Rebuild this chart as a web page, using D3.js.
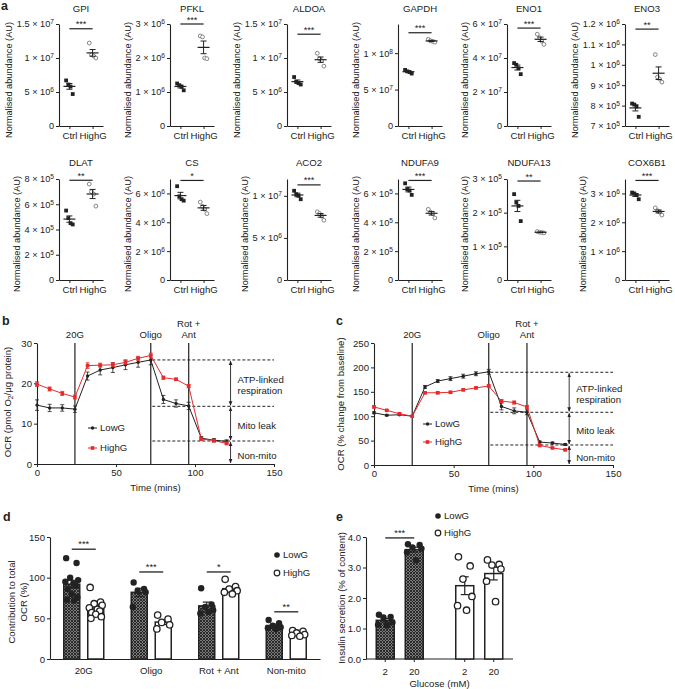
<!DOCTYPE html>
<html><head><meta charset="utf-8">
<script src="https://cdn.jsdelivr.net/npm/d3@7"></script>
<style>
body{margin:0;background:#fff}
svg text{font-family:"Liberation Sans",Arial,Helvetica,sans-serif;fill:#222}
</style>
</head><body>
<svg id="fig" width="675" height="689"></svg>
<script>
// ---------------- DATA ----------------
// Panel a
const genes = ["GPI","PFKL","ALDOA","GAPDH","ENO1","ENO3","DLAT","CS","ACO2","NDUFA9","NDUFA13","COX6B1"];
const groupsA = ["Ctrl","HighG"];
const ctrlA = [
  [6.7e6, 6.1e6, 5.8e6, 4.7e6],
  [1.25e6, 1.2e6, 1.15e6, 1.05e6],
  [7.2e6, 6.5e6, 6.3e6, 6.1e6],
  [7.7e7, 7.5e7, 7.4e7, 7.2e7],
  [3.7e7, 3.6e7, 3.4e7, 3.05e7],
  [8.1e5, 8.05e5, 7.95e5, 7.45e5],
  [5.5e5, 4.9e5, 4.5e5, 4.4e5],
  [6.5e6, 5.8e6, 5.6e6, 5.5e6],
  [1.06e7, 1.02e7, 1.0e7, 9.6e6],
  [6.7e5, 6.3e5, 6.2e5, 5.9e5],
  [2.55e5, 2.3e5, 2.2e5, 1.75e5],
  [3.03e6, 3.0e6, 2.95e6, 2.8e6]
];
const highA = [
  [1.22e7, 1.05e7, 1.03e7, 1.0e7],
  [2.65e6, 2.62e6, 2.0e6, 1.98e6],
  [1.07e7, 9.9e6, 9.6e6, 8.8e6],
  [1.19e8, 1.17e8, 1.16e8, 1.15e8],
  [5.4e7, 5.2e7, 5.0e7, 4.8e7],
  [1.05e6, 9.4e5, 9.3e5, 9.15e5],
  [7.6e5, 7.0e5, 6.8e5, 5.85e5],
  [5.4e6, 5.1e6, 4.9e6, 4.6e6],
  [8.1e6, 7.9e6, 7.6e6, 7.1e6],
  [4.9e5, 4.7e5, 4.6e5, 4.3e5],
  [1.44e5, 1.42e5, 1.41e5, 1.40e5],
  [2.5e6, 2.4e6, 2.35e6, 2.25e6]
];
const yMinA = [0,0,0,0,0,7e5, 0,0,0,0,0,0];
const yMaxA = [1.5e7,3e6,1.5e7,1.4e8,6e7,1.2e6, 8e5,7e6,1.2e7,7e5,3e5,3.5e6];
const ticksA = [
  [0,5e6,1e7,1.5e7],[0,1e6,2e6,3e6],[0,5e6,1e7,1.5e7],[0,5e7,1e8],[0,2e7,4e7,6e7],[7e5,8e5,9e5,1e6,1.1e6,1.2e6],
  [0,2e5,4e5,6e5,8e5],[0,2e6,4e6,6e6],[0,5e6,1e7],[0,2e5,4e5,6e5],[0,1e5,2e5,3e5],[0,1e6,2e6,3e6]
];
const starsA = ["***","***","***","***","***","**","**","*","***","***","**","***"];
const sigLevelA = [1.43e7,3.0e6,1.35e7,1.28e8,5.76e7,1.175e6, 7.9e5,6.9e6,1.13e7,6.9e5,2.94e5,3.45e6];

// Panels b, c
const times = [0,8,16,24,32,40,48,56,64,72,80,88,96,104,112,120];
const lowB = [14.6,13.9,13.9,13.6,21.8,23.3,23.9,24.6,25.2,25.8,16.0,15.0,14.4,6.4,5.9,5.6];
const lowBErr = [1.3,0.9,0.8,0.8,1.0,1.2,1.2,1.2,1.2,1.2,1.0,0.9,0.9,0.4,0.4,0.4];
const highB = [19.8,18.6,17.5,16.6,24.4,24.5,24.6,25.2,26.2,26.9,21.4,21.0,19.3,6.2,5.8,5.1];
const highBErr = [0.6,0.5,0.5,0.5,0.7,0.5,0.5,0.5,0.5,0.6,0.4,0.3,0.4,0.3,0.3,0.3];
const lowC = [107,102,103,100,160,172,177,182,187,191,120,111,108,47,45,42];
const lowCErr = [2,1.5,1.5,0,3,3,4,4,4,5,7,6,5,2,2,2];
const highC = [119,112,105,100,148,148,149,154,158,162,131,128,119,40,35,31];
const highCErr = [2,1.5,1.5,0,2,2,2,2,2,2,3,3,3,1.5,1.5,1.5];
const injections = [{t:24,label:["20G"]},{t:72,label:["Oligo"]},{t:96,label:["Rot +","Ant"]}];
const levelsB = [25.8,14.3,5.7];
const levelsC = [190,108,41];
const levelLabels = [["ATP-linked","respiration"],["Mito leak"],["Non-mito"]];
const ticksB = [0,10,20,30];
const ticksC = [0,50,100,150,200,250];
const ticksTime = [0,50,100,150];

// Panel d
const groupsD = ["20G","Oligo","Rot + Ant","Non-mito"];
const lowD = [
  [124,118,100,97,95,93,90,86,80,76,73,72],
  [94,86,84,82,64],
  [87,67,64,60,56,58],
  [48,44,41,39,38,37]
];
const highD = [
  [88,70,68,66,63,61,59,57,55,52,50],
  [54,49,45,42,37],
  [98,89,86,84,82,80],
  [35,34,32,30,29,28]
];
const starsD = ["***","***","*","**"];
const sigLevelD = [135,107,107,58];
const ticksD = [0,50,100,150];

// Panel e
const glucose = ["2","20"];
const lowE = [
  [1.45,1.38,1.36,1.2,1.12,1.1],
  [3.76,3.74,3.66,3.62,3.5,3.24]
];
const highE = [
  [3.35,3.05,2.62,2.05,1.75,1.6],
  [3.25,3.1,3.08,2.95,2.55,1.88]
];
const ticksE = [0,1,2,3,4];
const sigLevelE = 3.97;

// ---------------- DRAWING ----------------
const FONT = '"Liberation Sans", Arial, Helvetica, sans-serif';
const INK = "#222";
const RED = "#e8282b";
const FS = 9.6;
const svg = d3.select("#fig");
svg.append("rect").attr("width",675).attr("height",689).attr("fill","#fff");

function styleAxis(g, fs){
  g.attr("font-family",FONT).attr("font-size",fs);
  g.selectAll(".domain").attr("stroke",INK).attr("stroke-width",1.1);
  g.selectAll(".tick line").attr("stroke",INK).attr("stroke-width",1);
  g.selectAll(".tick text").attr("fill",INK);
}
function sci(sel){
  sel.each(function(v){
    const t = d3.select(this); t.text(null);
    if (v === 0){ t.text("0"); return; }
    const e = Math.floor(Math.log10(v) + 1e-9);
    const m = +(v/Math.pow(10,e)).toFixed(2);
    t.append("tspan").text(m + " \u00d7 10");
    t.append("tspan").attr("dy","-0.45em").attr("font-size","6.6px").text(e);
  });
}
function mean(a){ return d3.mean(a); }
function sem(a){ return d3.deviation(a)/Math.sqrt(a.length); }
function panelLabel(txt,x,y){
  svg.append("text").attr("x",x).attr("y",y).attr("font-size",12.5).attr("font-weight","bold").text(txt);
}

// ---- Panel a ----
panelLabel("a",1,10);
const aCols = [59,170,287,398,507,625];
const aRows = [{y0:126,y1:24,title:12,lab:80},{y0:280,y1:179,title:166,lab:234}];
genes.forEach((name,i)=>{
  const r = aRows[Math.floor(i/6)], ax = aCols[i%6];
  const y = d3.scaleLinear().domain([yMinA[i],yMaxA[i]]).range([r.y0,r.y1]);
  const x = d3.scalePoint().domain(groupsA).range([ax,ax+44]).padding(0.45);
  const g = svg.append("g");
  const ya = g.append("g").attr("transform",`translate(${ax},0)`)
    .call(d3.axisLeft(y).tickValues(ticksA[i]).tickSize(3).tickSizeOuter(0).tickPadding(2));
  styleAxis(ya,9.2);
  ya.selectAll(".tick text").call(sci);
  const xa = g.append("g").attr("transform",`translate(0,${r.y0})`)
    .call(d3.axisBottom(x).tickSize(3).tickSizeOuter(0).tickPadding(3));
  styleAxis(xa,FS);
  g.append("text").attr("x",ax+22).attr("y",r.title).attr("text-anchor","middle").attr("font-size",FS).text(name);
  const bb = ya.node().getBBox();
  g.append("text").attr("transform",`translate(${ax+bb.x-8},${r.lab}) rotate(-90)`)
    .attr("text-anchor","middle").attr("dy","0.35em").attr("font-size",9.2).text("Normalised abundance (AU)");
  const off = (j,n)=> (j-(n-1)/2)*2.2;
  ctrlA[i].forEach((v,j)=>{
    g.append("rect").attr("x",x("Ctrl")+off(j,4)-1.9).attr("y",y(v)-1.9).attr("width",3.8).attr("height",3.8).attr("fill",INK);
  });
  highA[i].forEach((v,j)=>{
    g.append("circle").attr("cx",x("HighG")+off(j,4)).attr("cy",y(v)).attr("r",1.9)
      .attr("fill","#fff").attr("stroke","#777").attr("stroke-width",0.9);
  });
  [[ctrlA[i],"Ctrl"],[highA[i],"HighG"]].forEach(([arr,k])=>{
    const m = mean(arr), s = sem(arr), cx = x(k);
    g.append("line").attr("x1",cx-6).attr("x2",cx+6).attr("y1",y(m)).attr("y2",y(m)).attr("stroke",INK).attr("stroke-width",1.2);
    g.append("line").attr("x1",cx).attr("x2",cx).attr("y1",y(m-s)).attr("y2",y(m+s)).attr("stroke",INK).attr("stroke-width",1);
    [m-s,m+s].forEach(v=>g.append("line").attr("x1",cx-3).attr("x2",cx+3).attr("y1",y(v)).attr("y2",y(v)).attr("stroke",INK).attr("stroke-width",1));
  });
  const sy = y(sigLevelA[i]);
  g.append("line").attr("x1",x("Ctrl")).attr("x2",x("HighG")).attr("y1",sy).attr("y2",sy).attr("stroke",INK).attr("stroke-width",1.2);
  g.append("text").attr("x",(x("Ctrl")+x("HighG"))/2).attr("y",sy-1.5).attr("text-anchor","middle").attr("font-size",9.2).text(starsA[i]);
});

// ---- Panels b & c ----
const defs = svg.append("defs");
defs.append("marker").attr("id","arr").attr("viewBox","0 0 6 6").attr("refX",5.5).attr("refY",3)
  .attr("markerWidth",5).attr("markerHeight",5).attr("orient","auto-start-reverse")
  .append("path").attr("d","M0,0.5 L6,3 L0,5.5 Z").attr("fill",INK);

function drawOCR(o){
  const x = d3.scaleLinear().domain([0,150]).range([o.x0,o.x1]);
  const y = d3.scaleLinear().domain([0,o.yMax]).range([o.y0,o.y1]);
  const g = svg.append("g");
  const ya = g.append("g").attr("transform",`translate(${o.x0},0)`)
    .call(d3.axisLeft(y).tickValues(o.ticks).tickSize(3).tickSizeOuter(0).tickPadding(2));
  styleAxis(ya,FS);
  const xa = g.append("g").attr("transform",`translate(0,${o.y0})`)
    .call(d3.axisBottom(x).tickValues(ticksTime).tickSize(3).tickSizeOuter(0).tickPadding(2));
  styleAxis(xa,FS);
  g.append("text").attr("x",x(75)).attr("y",o.y0+27).attr("text-anchor","middle").attr("font-size",FS).text("Time (mins)");
  injections.forEach(inj=>{
    g.append("line").attr("x1",x(inj.t)).attr("x2",x(inj.t)).attr("y1",y(0)).attr("y2",y(o.yMax))
      .attr("stroke","#333").attr("stroke-width",1.3);
    inj.label.forEach((l,k)=>{
      g.append("text").attr("x",x(inj.t)).attr("y",338-(inj.label.length-1-k)*11)
        .attr("text-anchor","middle").attr("font-size",FS).text(l);
    });
  });
  o.levels.forEach(v=>{
    g.append("line").attr("x1",x(73)).attr("x2",x(150)).attr("y1",y(v)).attr("y2",y(v))
      .attr("stroke",INK).attr("stroke-width",1).attr("stroke-dasharray","3,2");
  });
  const bounds = [o.levels[0],o.levels[1],o.levels[2],0];
  for (let k=0;k<3;k++){
    const ya1 = y(bounds[k]), ya2 = y(bounds[k+1]);
    g.append("line").attr("x1",x(122.5)).attr("x2",x(122.5)).attr("y1",ya1+1).attr("y2",ya2-1)
      .attr("stroke",INK).attr("stroke-width",0.9)
      .attr("marker-start","url(#arr)").attr("marker-end","url(#arr)");
    const lines = levelLabels[k], mid = (ya1+ya2)/2 + (k===2 ? 3 : 2);
    lines.forEach((l,j)=>{
      g.append("text").attr("x",x(122.5)+7).attr("y",mid + 3.3 + (j-(lines.length-1)/2)*11)
        .attr("font-size",FS).text(l);
    });
  }
  const series = [{v:o.low,e:o.lowErr,c:INK,sq:false},{v:o.high,e:o.highErr,c:RED,sq:true}];
  series.forEach(s=>{
    const line = d3.line().x((d,i)=>x(times[i])).y(d=>y(d));
    g.append("path").datum(s.v).attr("d",line).attr("fill","none").attr("stroke",s.c).attr("stroke-width",1);
    s.v.forEach((v,i)=>{
      const cx = x(times[i]);
      if (s.e[i]>0){
        g.append("line").attr("x1",cx).attr("x2",cx).attr("y1",y(v-s.e[i])).attr("y2",y(v+s.e[i])).attr("stroke",s.c).attr("stroke-width",0.8);
        [v-s.e[i],v+s.e[i]].forEach(w=>g.append("line").attr("x1",cx-2).attr("x2",cx+2).attr("y1",y(w)).attr("y2",y(w)).attr("stroke",s.c).attr("stroke-width",0.8));
      }
      if (s.sq) g.append("rect").attr("x",cx-1.8).attr("y",y(v)-1.8).attr("width",3.6).attr("height",3.6).attr("fill",s.c);
      else g.append("circle").attr("cx",cx).attr("cy",y(v)).attr("r",1.7).attr("fill",s.c);
    });
  });
  [["LowG",INK,false,o.legY[0]],["HighG",RED,true,o.legY[1]]].forEach(([lab,c,sq,ly])=>{
    g.append("line").attr("x1",o.legX).attr("x2",o.legX+9).attr("y1",ly).attr("y2",ly).attr("stroke",c).attr("stroke-width",1);
    if (sq) g.append("rect").attr("x",o.legX+4.5-1.8).attr("y",ly-1.8).attr("width",3.6).attr("height",3.6).attr("fill",c);
    else g.append("circle").attr("cx",o.legX+4.5).attr("cy",ly).attr("r",1.7).attr("fill",c);
    g.append("text").attr("x",o.legX+12).attr("y",ly+3.3).attr("font-size",FS).text(lab);
  });
  return g;
}
panelLabel("b",2,325);
drawOCR({x0:37,x1:274,y0:464,y1:343,yMax:30,ticks:ticksB,low:lowB,lowErr:lowBErr,high:highB,highErr:highBErr,levels:levelsB,legX:88,legY:[428,448]});
const tb = svg.append("text").attr("transform","translate(8,402) rotate(-90)").attr("text-anchor","middle").attr("dy","0.35em").attr("font-size",FS);
tb.append("tspan").text("OCR (pmol O");
tb.append("tspan").attr("font-size","6.6px").attr("dy","2").text("2");
tb.append("tspan").attr("dy","-2").text("/\u03bcg protein)");
panelLabel("c",336,325);
drawOCR({x0:374,x1:613,y0:465,y1:343,yMax:250,ticks:ticksC,low:lowC,lowErr:lowCErr,high:highC,highErr:highCErr,levels:levelsC,legX:423,legY:[424,442]});
svg.append("text").attr("transform","translate(341,404) rotate(-90)").attr("text-anchor","middle").attr("dy","0.35em").attr("font-size",FS).text("OCR (% change from baseline)");

// ---- Patterns ----
const pat = defs.append("pattern").attr("id","hatch").attr("patternUnits","userSpaceOnUse").attr("width",3).attr("height",3);
pat.append("rect").attr("width",3).attr("height",3).attr("fill","#7a7a7a");
pat.append("path").attr("d","M0,0 L3,3 M3,0 L0,3").attr("stroke","#222").attr("stroke-width",0.9);

function barWithPoints(g, cx, w, y, arr, filled){
  const m = mean(arr), s = sem(arr);
  g.append("rect").attr("x",cx-w/2).attr("y",y(m)).attr("width",w).attr("height",y(0)-y(m))
    .attr("fill",filled?"url(#hatch)":"#fff").attr("stroke",INK).attr("stroke-width",1.5);
  g.append("line").attr("x1",cx).attr("x2",cx).attr("y1",y(m-s)).attr("y2",y(m+s)).attr("stroke",INK).attr("stroke-width",1.2);
  [m-s,m+s].forEach(v=>g.append("line").attr("x1",cx-4).attr("x2",cx+4).attr("y1",y(v)).attr("y2",y(v)).attr("stroke",INK).attr("stroke-width",1.2));
  const spread = [-0.35,0.3,-0.1,0.4,-0.4,0.1,0.25,-0.25,0.0,0.35,-0.3,0.15];
  arr.forEach((v,j)=>{
    const px = cx + spread[j%spread.length]*w;
    g.append("circle").attr("cx",px).attr("cy",y(v)).attr("r",3.2)
      .attr("fill",filled?INK:"#fff").attr("stroke",INK).attr("stroke-width",filled?0:1.3);
  });
}
function legendDots(g, x0, ys){
  [["LowG",true,ys[0]],["HighG",false,ys[1]]].forEach(([lab,f,ly])=>{
    g.append("circle").attr("cx",x0).attr("cy",ly).attr("r",2.8).attr("fill",f?INK:"#fff").attr("stroke",INK).attr("stroke-width",f?0:1.2);
    g.append("text").attr("x",x0+6).attr("y",ly+3.3).attr("font-size",FS).text(lab);
  });
}

// ---- Panel d ----
panelLabel("d",3,521);
{
  const g = svg.append("g");
  const x = d3.scaleBand().domain(groupsD).range([50,320]);
  const xi = d3.scaleBand().domain(["LowG","HighG"]).range([0,x.bandwidth()]).paddingInner(1/3).paddingOuter(0.573);
  const y = d3.scaleLinear().domain([0,150]).range([659,537]);
  const ya = g.append("g").attr("transform","translate(50,0)").call(d3.axisLeft(y).tickValues(ticksD).tickSize(3).tickSizeOuter(0).tickPadding(2));
  styleAxis(ya,FS);
  const xa = g.append("g").attr("transform","translate(0,659)").call(d3.axisBottom(x).tickSize(0).tickSizeOuter(0).tickPadding(8));
  styleAxis(xa,FS);
  groupsD.forEach((gr,i)=>{
    const cL = x(gr)+xi("LowG")+xi.bandwidth()/2, cH = x(gr)+xi("HighG")+xi.bandwidth()/2;
    barWithPoints(g, cL, xi.bandwidth(), y, lowD[i], true);
    barWithPoints(g, cH, xi.bandwidth(), y, highD[i], false);
    const sy = y(sigLevelD[i]);
    g.append("line").attr("x1",cL).attr("x2",cH).attr("y1",sy).attr("y2",sy).attr("stroke",INK).attr("stroke-width",1.3);
    g.append("text").attr("x",(cL+cH)/2).attr("y",sy-2).attr("text-anchor","middle").attr("font-size",9.4).text(starsD[i]);
  });
  legendDots(g, 277, [555,573]);
  g.append("text").attr("transform","translate(12,602) rotate(-90)").attr("text-anchor","middle").attr("dy","0.35em").attr("font-size",FS).text("Contribution to total");
  g.append("text").attr("transform","translate(24,602) rotate(-90)").attr("text-anchor","middle").attr("dy","0.35em").attr("font-size",FS).text("OCR (%)");
}

// ---- Panel e ----
panelLabel("e",336,521);
{
  const g = svg.append("g");
  const xo = d3.scaleBand().domain(["LowG","HighG"]).range([360,519]);
  const xi = d3.scaleBand().domain(glucose).range([0,xo.bandwidth()]).paddingInner(0.379).paddingOuter(0.56);
  const y = d3.scaleLinear().domain([0,4]).range([659,537]);
  const ya = g.append("g").attr("transform","translate(366,0)").call(d3.axisLeft(y).tickValues(ticksE).tickSize(3).tickSizeOuter(0).tickPadding(2));
  styleAxis(ya,FS);
  g.append("line").attr("x1",366).attr("x2",513).attr("y1",659).attr("y2",659).attr("stroke",INK).attr("stroke-width",1.1);
  const data = {LowG:lowE, HighG:highE};
  const centers = {};
  ["LowG","HighG"].forEach(grp=>{
    glucose.forEach((gl,k)=>{
      const cx = xo(grp)+xi(gl)+xi.bandwidth()/2;
      centers[grp+gl]=cx;
      barWithPoints(g, cx, xi.bandwidth(), y, data[grp][k], grp==="LowG");
      g.append("line").attr("x1",cx).attr("x2",cx).attr("y1",659).attr("y2",662).attr("stroke",INK);
      g.append("text").attr("x",cx).attr("y",675).attr("text-anchor","middle").attr("font-size",FS).text(gl);
    });
  });
  g.append("text").attr("x",(366+513)/2).attr("y",687).attr("text-anchor","middle").attr("font-size",FS).text("Glucose (mM)");
  const sy = y(sigLevelE);
  g.append("line").attr("x1",centers.LowG2).attr("x2",centers.LowG20).attr("y1",sy).attr("y2",sy).attr("stroke",INK).attr("stroke-width",1.3);
  g.append("text").attr("x",(centers.LowG2+centers.LowG20)/2).attr("y",sy-2).attr("text-anchor","middle").attr("font-size",9.4).text("***");
  legendDots(g, 438, [516,533]);
  g.append("text").attr("transform","translate(342,598) rotate(-90)").attr("text-anchor","middle").attr("dy","0.35em").attr("font-size",FS).text("Insulin secretion (% of content)");
}
</script>
</body></html>
